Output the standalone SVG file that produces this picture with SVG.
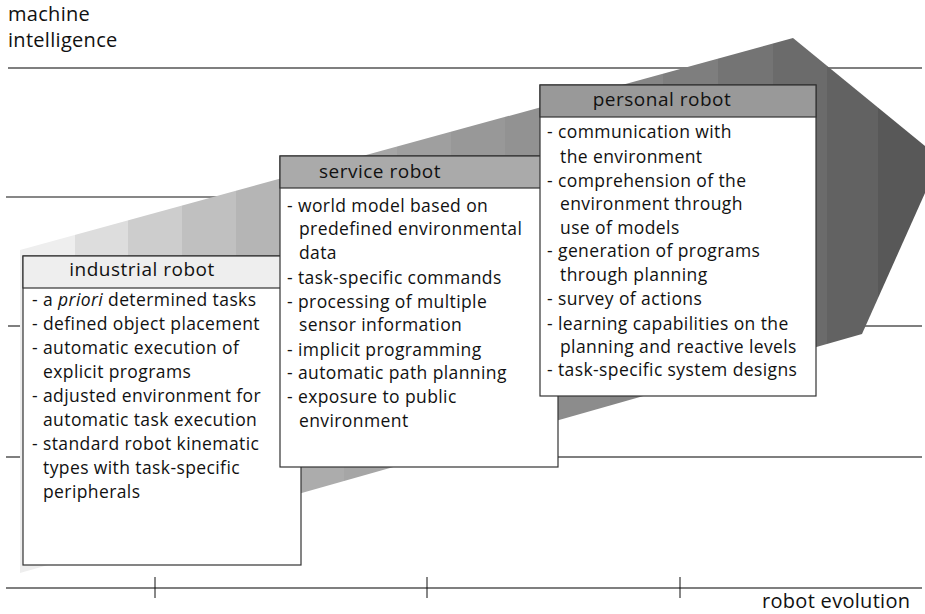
<svg xmlns="http://www.w3.org/2000/svg" width="925" height="614" viewBox="0 0 925 614">
<style>
text{font-family:"Open Sans","Noto Sans","DejaVu Sans",sans-serif;fill:#111}
.it{font-size:17.5px;letter-spacing:0.4px}
.ti{font-size:19px;letter-spacing:0.5px;text-anchor:middle}
.ax{font-size:20px;letter-spacing:0.3px}
.gl{stroke:#555;stroke-width:1.4;fill:none}
.box{fill:#fff;stroke:#333;stroke-width:1.2}
</style>
<defs>
<clipPath id="bandclip"><polygon points="20,250 793,38 925,146 925,193 862,334 20,573"/></clipPath>
</defs>
<g id="grid">
<line class="gl" x1="8" y1="68" x2="922" y2="68"/>
<line x1="6" y1="197" x2="922" y2="197" stroke="#111" stroke-width="1.2"/>
<line class="gl" x1="8" y1="326" x2="922" y2="326"/>
<line class="gl" x1="6" y1="457" x2="922" y2="457"/>
<line class="gl" x1="6" y1="588" x2="922" y2="588"/>
<line x1="155" y1="577" x2="155" y2="598" stroke="#111" stroke-width="1"/>
<line x1="427" y1="577" x2="427" y2="598" stroke="#111" stroke-width="1"/>
<line x1="680" y1="577" x2="680" y2="598" stroke="#111" stroke-width="1"/>
</g>
<g id="band" clip-path="url(#bandclip)">
<rect x="20" y="30" width="55" height="560" fill="#eeeeee"/>
<rect x="75" y="30" width="53" height="560" fill="#dddddd"/>
<rect x="128" y="30" width="54" height="560" fill="#cdcdcd"/>
<rect x="182" y="30" width="54" height="560" fill="#c0c0c0"/>
<rect x="236" y="30" width="54" height="560" fill="#b5b5b5"/>
<rect x="290" y="30" width="54" height="560" fill="#acacac"/>
<rect x="344" y="30" width="53" height="560" fill="#a6a6a6"/>
<rect x="397" y="30" width="54" height="560" fill="#9f9f9f"/>
<rect x="451" y="30" width="54" height="560" fill="#989898"/>
<rect x="505" y="30" width="53" height="560" fill="#929292"/>
<rect x="558" y="30" width="52" height="560" fill="#8c8c8c"/>
<rect x="610" y="30" width="53" height="560" fill="#868686"/>
<rect x="663" y="30" width="55" height="560" fill="#7e7e7e"/>
<rect x="718" y="30" width="55" height="560" fill="#747474"/>
<rect x="773" y="30" width="54" height="560" fill="#6b6b6b"/>
<rect x="827" y="30" width="51" height="560" fill="#626262"/>
<rect x="878" y="30" width="47" height="560" fill="#585858"/>
</g>
<g id="axis-labels">
<text class="ax" x="8" y="21">machine</text>
<text class="ax" x="8" y="47">intelligence</text>
<text class="ax" x="762" y="608">robot evolution</text>
</g>
<g id="industrial-robot">
<rect class="box" x="23" y="256" width="278" height="309"/>
<rect x="23" y="256" width="278" height="32" fill="#eeeeee" stroke="#333" stroke-width="1.2"/>
<text class="ti" x="142" y="276">industrial robot</text>
<text class="it" x="32" y="306">- a <tspan font-style="italic">priori</tspan> determined tasks</text>
<text class="it" x="32" y="330">- defined object placement</text>
<text class="it" x="32" y="354">- automatic execution of</text>
<text class="it" x="43" y="378">explicit programs</text>
<text class="it" x="32" y="402">- adjusted environment for</text>
<text class="it" x="43" y="426">automatic task execution</text>
<text class="it" x="32" y="450">- standard robot kinematic</text>
<text class="it" x="43" y="474">types with task-specific</text>
<text class="it" x="43" y="498">peripherals</text>
</g>
<g id="service-robot">
<rect class="box" x="280" y="156" width="278" height="311"/>
<rect x="280" y="156" width="278" height="32" fill="#aaaaaa" stroke="#333" stroke-width="1.2"/>
<text class="ti" x="380" y="178">service robot</text>
<text class="it" x="287" y="212">- world model based on</text>
<text class="it" x="299" y="235">predefined environmental</text>
<text class="it" x="299" y="259">data</text>
<text class="it" x="287" y="284">- task-specific commands</text>
<text class="it" x="287" y="308">- processing of multiple</text>
<text class="it" x="299" y="331">sensor information</text>
<text class="it" x="287" y="356">- implicit programming</text>
<text class="it" x="287" y="379">- automatic path planning</text>
<text class="it" x="287" y="403">- exposure to public</text>
<text class="it" x="299" y="427">environment</text>
</g>
<g id="personal-robot">
<rect class="box" x="540" y="85" width="276" height="311"/>
<rect x="540" y="85" width="276" height="32" fill="#999999" stroke="#333" stroke-width="1.2"/>
<text class="ti" x="662" y="106">personal robot</text>
<text class="it" x="547" y="138">- communication with</text>
<text class="it" x="560" y="163">the environment</text>
<text class="it" x="547" y="187">- comprehension of the</text>
<text class="it" x="560" y="210">environment through</text>
<text class="it" x="560" y="234">use of models</text>
<text class="it" x="547" y="257">- generation of programs</text>
<text class="it" x="560" y="281">through planning</text>
<text class="it" x="547" y="305">- survey of actions</text>
<text class="it" x="547" y="330">- learning capabilities on the</text>
<text class="it" x="560" y="353">planning and reactive levels</text>
<text class="it" x="547" y="376">- task-specific system designs</text>
</g>
</svg>
